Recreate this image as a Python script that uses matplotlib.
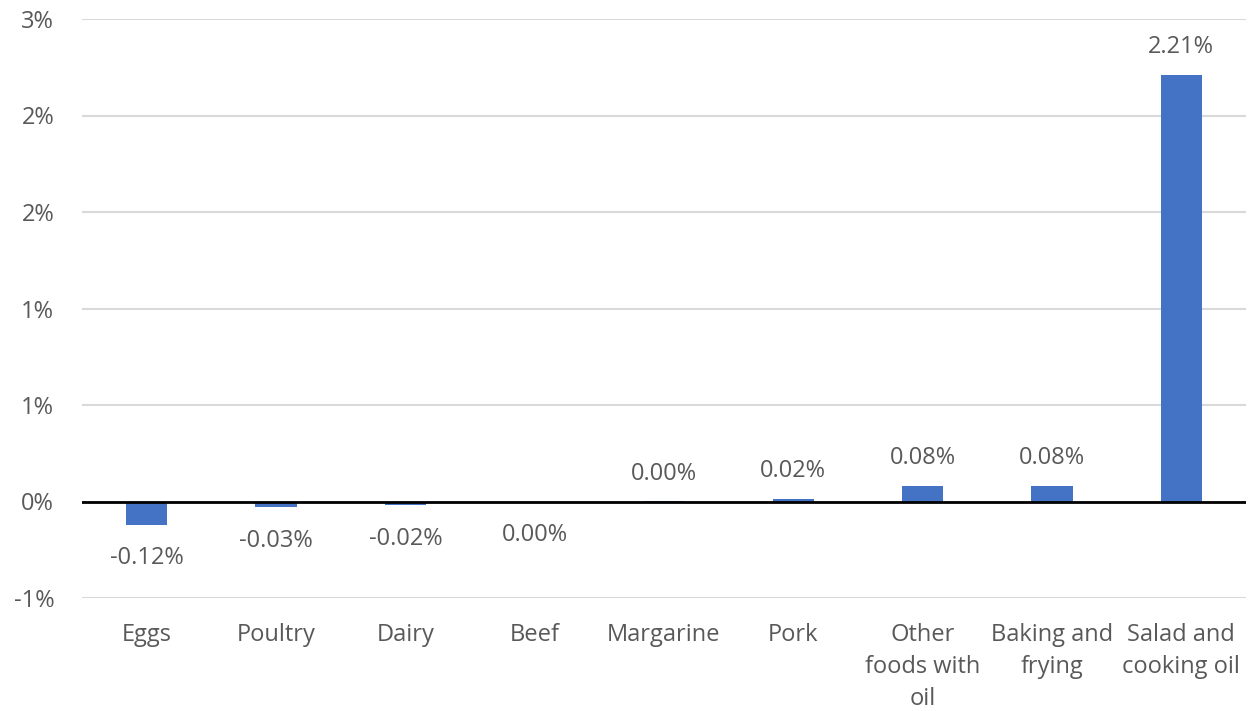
import matplotlib
matplotlib.use("Agg")
import matplotlib.pyplot as plt
from matplotlib.ticker import FixedLocator, FixedFormatter

categories = ["Eggs", "Poultry", "Dairy", "Beef", "Margarine", "Pork",
              "Other\nfoods with\noil", "Baking and\nfrying", "Salad and\ncooking oil"]
values = [-0.12, -0.03, -0.02, -0.001, 0.001, 0.015, 0.08, 0.08, 2.21]
value_labels = ["-0.12%", "-0.03%", "-0.02%", "0.00%", "0.00%", "0.02%", "0.08%", "0.08%", "2.21%"]
ytick_values = [-0.5, 0.0, 0.5, 1.0, 1.5, 2.0, 2.5]
ytick_labels = ["-1%", "0%", "1%", "1%", "2%", "2%", "3%"]

TEXT = "#595959"
FONT = "Open Sans"
FS = 17

fig = plt.figure(figsize=(12.54, 7.11), dpi=100)
ax = fig.add_axes([82/1254, 1-598/711, (1246-82)/1254, (598-19)/711])

x = list(range(len(categories)))
ax.bar(x, values, width=0.32, color="#4472C4", zorder=3)

ax.set_xlim(-0.5, len(categories)-0.5)
ax.set_ylim(-0.5, 2.5)
ax.yaxis.set_major_locator(FixedLocator(ytick_values))
ax.yaxis.set_major_formatter(FixedFormatter(ytick_labels))
ax.grid(axis="y", color="#d9d9d9", linewidth=1.5, zorder=0)
ax.axhline(0, color="black", linewidth=2, zorder=4)

for s in ax.spines.values():
    s.set_visible(False)
ax.tick_params(axis="both", length=0, colors=TEXT, labelsize=FS)
ax.tick_params(axis="y", pad=20)
ax.tick_params(axis="x", pad=18)
ax.set_xticks(x)
ax.set_xticklabels(categories, fontfamily=FONT, linespacing=1.45, color=TEXT, va="top")
for t in ax.get_yticklabels():
    t.set_fontfamily(FONT)

for xi, v, lab in zip(x, values, value_labels):
    off = 20 if v >= 0 else -24
    ax.annotate(lab, (xi, v), xytext=(0, off), textcoords="offset points",
                ha="center", va="center", fontsize=FS, color=TEXT, fontfamily=FONT,
                zorder=5)

fig.savefig("out.png", dpi=100, facecolor="white")
